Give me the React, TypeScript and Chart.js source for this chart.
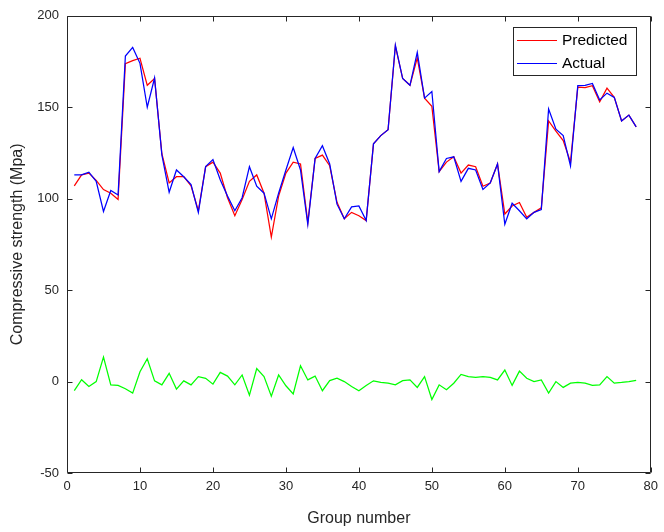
import { useEffect, useRef } from "react";
import { Chart, registerables } from "chart.js";

Chart.register(...registerables);

const groups: number[] = Array.from({ length: 78 }, (_, i) => i + 1);

const predicted: number[] = [
  107, 113, 114, 110, 105, 103, 99.6, 173.8, 175.5, 176.8,
  162, 165.7, 124.6, 108.6, 112, 112, 107, 93.4, 117.5, 120,
  114, 100.5, 90.7, 99.6, 109.5, 113, 103, 79, 101.4, 114,
  120, 119, 87, 122, 123.8, 118, 98, 89, 92.5, 90.7,
  88, 130, 134.5, 137.7, 183.5, 165.7, 162, 177, 155, 150.5,
  114.8, 120, 122.9, 114, 118.4, 117.5, 106.8, 108.6, 119, 91.6,
  96, 97.9, 89.8, 92.5, 95, 142.5, 137, 131.8, 120, 161,
  160.7, 161.8, 153, 160.4, 155.4, 142.5, 145.7, 139.3,
];

const actual: number[] = [
  113, 113, 114.5, 109.5, 93, 104.5, 102, 178, 182.7, 174,
  150, 166, 124, 103.5, 115.7, 112, 107.7, 92.5, 117.5, 121.4,
  110.4, 101.4, 93.4, 100.5, 117.5, 106.8, 103, 89, 103, 115.7,
  128, 115.7, 86, 122, 129, 119, 97, 89, 95.5, 96,
  88, 130, 134.5, 137.7, 184, 165.7, 162, 180, 155, 158.6,
  114.8, 122, 122.9, 109.5, 116.6, 115.7, 105, 108.6, 119, 86,
  97.5, 93.4, 89, 92.5, 94, 149, 138, 134.5, 117.9, 161.8,
  162, 163, 154, 157.7, 155.4, 142.5, 145.7, 139.3,
];

const errorValues: number[] = [
  -5, 1, -2.7, 0, 13.4, -1.8, -2.1, -3.9, -6.3, 5.4,
  12.5, 0.4, -1.8, 4.5, -4.1, 0.4, -1.8, 2.7, 1.8, -1.4,
  5, 3, -1.8, 3.6, -7.5, 7.1, 2.7, -8, 3.6, -2.3,
  -6.8, 8.6, 0.9, 3, -5, 0.5, 1.8, 0, -2.7, -5,
  -2.1, 0.4, -0.4, -0.9, -1.8, 0.5, 0.9, -3.2, 2.7, -9.8,
  -1.8, -4.5, -0.9, 3.9, 2.7, 2.3, 2.7, 2.3, 0.9, 6.3,
  -2.1, 5.7, 1.8, 0, 0.9, -6.3, 0, -3.2, -0.9, -0.4,
  -0.9, -2.1, -1.8, 2.7, -0.9, -0.5, 0, 0.7,
];

const xTicks: number[] = [0, 10, 20, 30, 40, 50, 60, 70, 80];
const yTicks: number[] = [-50, 0, 50, 100, 150, 200];

const legendLabels: string[] = ["Predicted", "Actual"];

const FONT = "'Liberation Sans', Arial, Helvetica, sans-serif";
const AXIS = "#262626";

const framePlugin = {
  id: "matlabFrame",
  afterDraw(chart: any) {
    const { ctx, chartArea: a, scales } = chart;
    const xs = scales.x;
    const ys = scales.y;
    const L = Math.round(a.left) + 0.5;
    const R = Math.round(a.right) - 0.5;
    const T = Math.round(a.top) + 0.5;
    const B = Math.round(a.bottom) - 0.5;
    const tl = 5;
    ctx.save();
    ctx.strokeStyle = AXIS;
    ctx.lineWidth = 1;
    ctx.beginPath();
    ctx.rect(L, T, R - L, B - T);
    for (const v of xTicks) {
      const px = Math.round(xs.getPixelForValue(v)) + 0.5;
      ctx.moveTo(px, B);
      ctx.lineTo(px, B - tl);
      ctx.moveTo(px, T);
      ctx.lineTo(px, T + tl);
    }
    for (const v of yTicks) {
      const py = Math.round(ys.getPixelForValue(v)) + 0.5;
      ctx.moveTo(L, py);
      ctx.lineTo(L + tl, py);
      ctx.moveTo(R, py);
      ctx.lineTo(R - tl, py);
    }
    ctx.stroke();

    // legend box (top-right, inside the axes)
    const bx = 513.5, by = 27.5, bw = 123, bh = 48;
    ctx.fillStyle = "#ffffff";
    ctx.fillRect(bx, by, bw, bh);
    ctx.strokeStyle = AXIS;
    ctx.lineWidth = 1;
    ctx.strokeRect(bx, by, bw, bh);
    ctx.font = `15.5px ${FONT}`;
    ctx.textBaseline = "middle";
    ctx.textAlign = "left";
    const rows = [40.5, 63.5];
    legendLabels.forEach((label, i) => {
      const ds = chart.data.datasets[i];
      ctx.strokeStyle = ds.borderColor;
      ctx.lineWidth = 1.2;
      ctx.beginPath();
      ctx.moveTo(517, rows[i]);
      ctx.lineTo(557, rows[i]);
      ctx.stroke();
      ctx.fillStyle = "#000000";
      ctx.fillText(label, 562, rows[i] + 0.5);
    });
    ctx.restore();
  },
};

export default function App() {
  const canvasRef = useRef<HTMLCanvasElement | null>(null);

  useEffect(() => {
    if (!canvasRef.current) return;
    const toPts = (vals: number[]) => vals.map((v, i) => ({ x: groups[i], y: v }));
    const chart = new Chart(canvasRef.current, {
      type: "line",
      data: {
        datasets: [
          { label: "Predicted", data: toPts(predicted), borderColor: "#ff0000", backgroundColor: "#ff0000", order: 2 },
          { label: "Actual", data: toPts(actual), borderColor: "#0000ff", backgroundColor: "#0000ff", order: 1 },
          { label: "Error", data: toPts(errorValues), borderColor: "#00ff00", backgroundColor: "#00ff00", order: 0 },
        ],
      },
      options: {
        animation: false,
        responsive: true,
        maintainAspectRatio: false,
        layout: { padding: { left: 0, right: 10, top: 11, bottom: 0 } },
        elements: {
          point: { radius: 0 },
          line: { borderWidth: 1.25, tension: 0 },
        },
        plugins: {
          legend: { display: false },
          tooltip: { enabled: false },
        },
        scales: {
          x: {
            type: "linear",
            min: 0,
            max: 80,
            afterBuildTicks: (s: any) => {
              s.ticks = xTicks.map((v) => ({ value: v }));
            },
            afterFit: (s: any) => {
              s.height = 59;
            },
            grid: { display: false, drawTicks: false },
            border: { display: false },
            ticks: {
              color: AXIS,
              font: { family: FONT, size: 13 },
              padding: 6,
              maxRotation: 0,
            },
            title: {
              display: true,
              text: "Group number",
              color: AXIS,
              font: { family: FONT, size: 16 },
              padding: { top: 0, bottom: 4 },
            },
          },
          y: {
            type: "linear",
            min: -50,
            max: 200,
            afterBuildTicks: (s: any) => {
              s.ticks = yTicks.map((v) => ({ value: v }));
            },
            afterFit: (s: any) => {
              s.width = 67;
            },
            grid: { display: false, drawTicks: false },
            border: { display: false },
            ticks: {
              color: AXIS,
              font: { family: FONT, size: 13 },
              padding: 8,
            },
            title: {
              display: true,
              text: "Compressive strength (Mpa)",
              color: AXIS,
              font: { family: FONT, size: 16 },
              padding: { top: 8, bottom: 0 },
            },
          },
        },
      },
      plugins: [framePlugin],
    });
    return () => chart.destroy();
  }, []);

  return (
    <div style={{ position: "fixed", left: 0, top: 0, width: 664, height: 532, background: "#ffffff" }}>
      <canvas ref={canvasRef} />
    </div>
  );
}
